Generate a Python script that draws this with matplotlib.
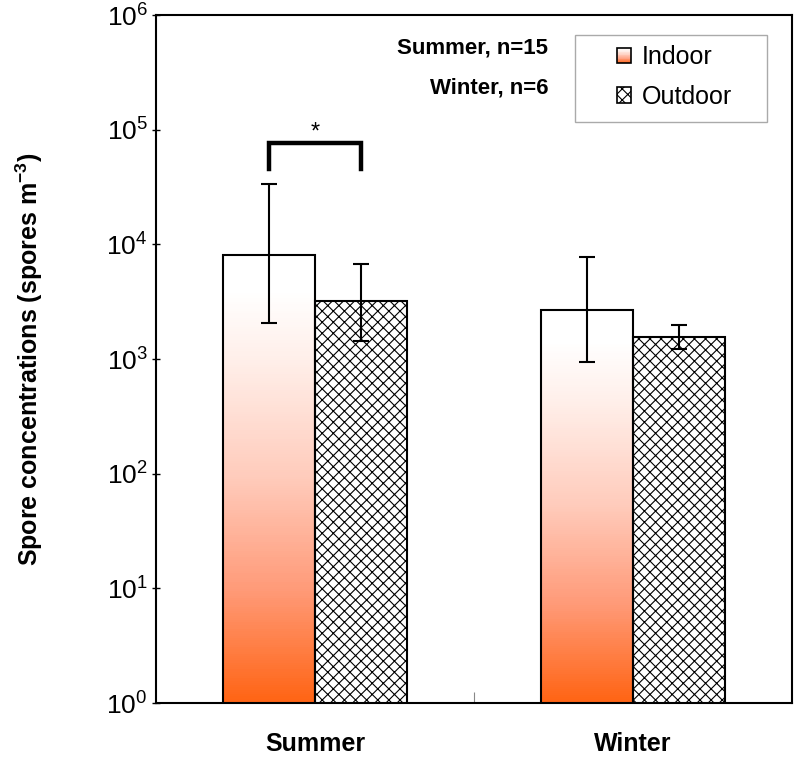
import numpy as np
import matplotlib
matplotlib.use("Agg")
import matplotlib.pyplot as plt
from matplotlib.patches import Rectangle
from matplotlib.legend_handler import HandlerBase
from matplotlib.colors import LinearSegmentedColormap

plt.rcParams['font.family'] = ['Liberation Sans', 'DejaVu Sans']
plt.rcParams['mathtext.fontset'] = 'custom'
plt.rcParams['mathtext.rm'] = 'Liberation Sans'
plt.rcParams['mathtext.bf'] = 'Liberation Sans:bold'
plt.rcParams['mathtext.default'] = 'regular'
plt.rcParams['hatch.linewidth'] = 0.8
plt.rcParams['hatch.color'] = 'black'

# ---- data ----
seasons = ["Summer", "Winter"]
indoor = [8050, 2670]
indoor_lo = [2055, 940]
indoor_hi = [33500, 7730]
outdoor = [3200, 1552]
outdoor_lo = [1432, 1220]
outdoor_hi = [6720, 1975]
sig_bracket = [76000, 45000]   # top, leg ends
n_text = ["Summer, n=15", "Winter, n=6"]
n_text_y = [4.65e5, 2.08e5]

cmap = LinearSegmentedColormap.from_list(
    "grad", [(0.0, "#FF6414"), (0.25, "#FF9A78"), (0.5, "#FFCBBB"),
             (0.75, "#FFEDE7"), (0.92, "#FFFFFF"), (1.0, "#FFFFFF")])

fig = plt.figure(figsize=(8.0, 7.64), dpi=100)
ax = fig.add_axes([0.195, 0.0798, 0.795, 0.9005])
ax.set_yscale('log')
ax.set_ylim(1, 1e6)
ax.set_xlim(-0.5, 1.5)

x = np.arange(len(seasons))
w = 0.29
xi = x - w / 2
xo = x + w / 2

# gradient indoor bars
N = 200
for xc, top in zip(xi, indoor):
    edges = top ** (np.arange(N + 1) / N)
    for k in range(N):
        ax.bar(xc, edges[k + 1] - edges[k], bottom=edges[k], width=w,
               color=cmap(k / N), linewidth=0, antialiased=False, zorder=2)
ax.bar(xi, indoor, width=w, bottom=0, fill=False, edgecolor='black', linewidth=1.5, zorder=3)

# hatched outdoor bars
ax.bar(xo, outdoor, width=w, facecolor='white', edgecolor='black', hatch='xxx',
       linewidth=0, zorder=2)
ax.bar(xo, outdoor, width=w, fill=False, edgecolor='black', linewidth=1.5, zorder=3)

# error bars
yerr_i = [np.array(indoor) - np.array(indoor_lo), np.array(indoor_hi) - np.array(indoor)]
yerr_o = [np.array(outdoor) - np.array(outdoor_lo), np.array(outdoor_hi) - np.array(outdoor)]
ax.errorbar(xi, indoor, yerr=yerr_i, fmt='none', ecolor='black', elinewidth=1.5, capsize=6, capthick=1.5, zorder=4)
ax.errorbar(xo, outdoor, yerr=yerr_o, fmt='none', ecolor='black', elinewidth=1.5, capsize=6, capthick=1.5, zorder=4)

# significance bracket
ax.plot([xi[0], xi[0], xo[0], xo[0]], [sig_bracket[1], sig_bracket[0], sig_bracket[0], sig_bracket[1]],
        color='black', linewidth=3.2, solid_joinstyle='miter', zorder=4)
ax.text(x[0], sig_bracket[0] * 1.0, "*", ha='center', va='bottom', fontsize=17)

# n text
for t, yv in zip(n_text, n_text_y):
    ax.text(0.733, yv, t, ha='right', va='baseline', fontsize=16, fontweight='bold')

# axes styling
ax.set_xticks(x)
ax.set_xticklabels(seasons, fontsize=18, fontweight='bold')
ax.tick_params(axis='x', length=0, pad=21)
ax.set_xticks([0.5], minor=True)
ax.tick_params(axis='x', which='minor', direction='in', length=8, width=0.8, color='#888888')
ax.set_yticks([1, 10, 100, 1e3, 1e4, 1e5, 1e6])
ax.yaxis.set_minor_locator(matplotlib.ticker.NullLocator())
ax.tick_params(axis='y', direction='inout', length=6, width=1, labelsize=19, pad=3)
for s in ax.spines.values():
    s.set_linewidth(1.5)
ax.set_ylabel("Spore concentrations (spores m$^{-3}$)", fontsize=18, fontweight='bold')
ax.yaxis.set_label_coords(-0.175, 0.5)


class HandlerGradient(HandlerBase):
    def create_artists(self, legend, orig_handle, xdescent, ydescent, width, height, fontsize, trans):
        arts = []
        M = 20
        for k in range(M):
            r = Rectangle((-xdescent, -ydescent + height * k / M), width, height / M,
                          facecolor=cmap(k / M), edgecolor='none', transform=trans)
            arts.append(r)
        arts.append(Rectangle((-xdescent, -ydescent), width, height, fill=False,
                              edgecolor='black', linewidth=1.2, transform=trans))
        return arts


# legend box drawn separately (asymmetric padding)
ax.add_patch(Rectangle((0.659, 0.8445), 0.302, 0.1265, transform=ax.transAxes,
                       facecolor='white', edgecolor='#aaaaaa', linewidth=1.0, zorder=5))
h_in = Rectangle((0, 0), 1, 1)
h_out = Rectangle((0, 0), 1, 1, facecolor='white', edgecolor='black', hatch='xxx', linewidth=1.2)
leg = ax.legend([h_in, h_out], ["Indoor", "Outdoor"], handler_map={h_in: HandlerGradient()},
                loc='upper left', bbox_to_anchor=(0.725, 0.956), fontsize=18, frameon=False,
                handlelength=0.56, handleheight=0.56, handletextpad=0.44,
                labelspacing=0.62, borderpad=0, borderaxespad=0)
leg.set_zorder(6)

fig.savefig("out.png", dpi=100)
